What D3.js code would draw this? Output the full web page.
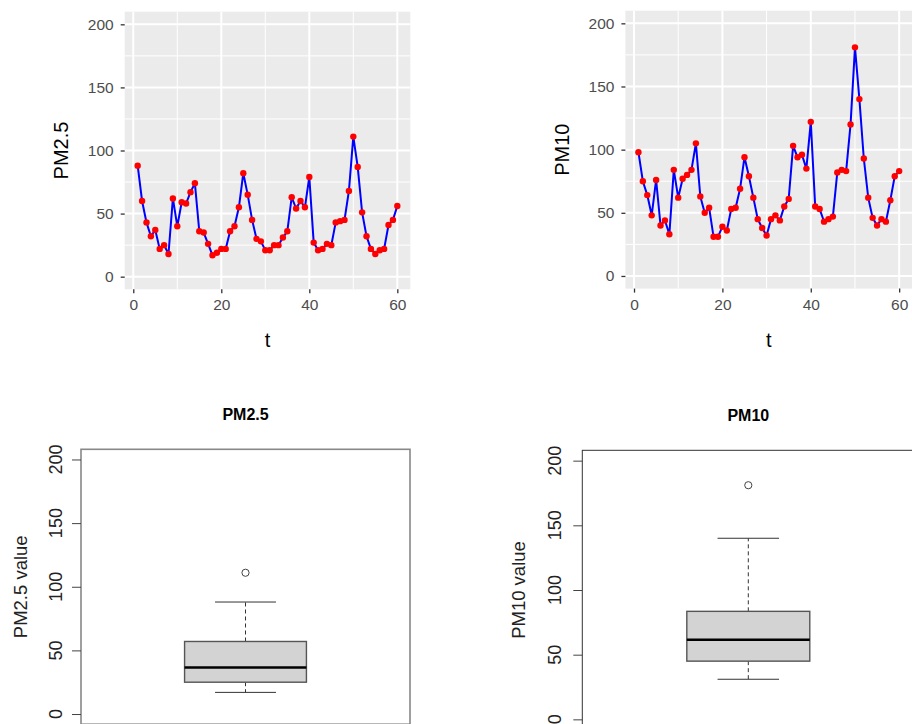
<!DOCTYPE html>
<html><head><meta charset="utf-8">
<script src="https://cdn.jsdelivr.net/npm/d3@7"></script>
<style>
html,body{margin:0;padding:0;background:#fff;}
svg{display:block;font-family:"Liberation Sans",Arial,sans-serif;}
</style></head>
<body>
<svg id="c" width="912" height="724"></svg>
<script>
// ---------- DATA ----------
const pm25 = [88,60,43,32,37,22,25,18,62,40,59,58,67,74,36,35,26,17,19,22,
              22,36,40,55,82,65,45,30,28,21,21,25,25,31,36,63,54,60,55,79,
              27,21,22,26,25,43,44,45,68,111,87,51,32,22,18,21,22,41,45,56];
const pm10 = [98,75,64,48,76,40,44,33,84,62,77,80,84,105,63,50,54,31,31,39,
              36,53,54,69,94,79,62,45,38,32,45,48,44,55,61,103,94,96,85,122,
              55,53,43,45,47,82,84,83,120,181,140,93,62,46,40,45,43,60,79,83];
const xTicks = [0,20,40,60];
const xMinor = [10,30,50];
const yTicks = [0,50,100,150,200];
const yMinor = [25,75,125,175];
const lineTitles = ["PM2.5","PM10"];
const boxTitles = ["PM2.5","PM10"];
const boxYLabels = ["PM2.5 value","PM10 value"];

const svg = d3.select("#c");

// ---------- ggplot-like line panels ----------
function linePanel(data, title, xr, yr, titleX) {
  const x = d3.scaleLinear().domain([-1.95, 62.95]).range(xr);
  const y = d3.scaleLinear().domain([-10, 210]).range(yr);
  const g = svg.append("g");
  g.append("rect").attr("x", xr[0]).attr("y", yr[1])
    .attr("width", xr[1]-xr[0]).attr("height", yr[0]-yr[1]).attr("fill", "#EBEBEB");
  g.selectAll(null).data(xMinor).join("line")
    .attr("x1", d=>x(d)).attr("x2", d=>x(d)).attr("y1", yr[0]).attr("y2", yr[1])
    .attr("stroke", "#fff").attr("stroke-width", 1);
  g.selectAll(null).data(yMinor).join("line")
    .attr("y1", d=>y(d)).attr("y2", d=>y(d)).attr("x1", xr[0]).attr("x2", xr[1])
    .attr("stroke", "#fff").attr("stroke-width", 1);
  g.selectAll(null).data(xTicks).join("line")
    .attr("x1", d=>x(d)).attr("x2", d=>x(d)).attr("y1", yr[0]).attr("y2", yr[1])
    .attr("stroke", "#fff").attr("stroke-width", 2);
  g.selectAll(null).data(yTicks).join("line")
    .attr("y1", d=>y(d)).attr("y2", d=>y(d)).attr("x1", xr[0]).attr("x2", xr[1])
    .attr("stroke", "#fff").attr("stroke-width", 2);
  const ax = g.append("g").attr("transform", `translate(0,${yr[0]})`)
    .call(d3.axisBottom(x).tickValues(xTicks).tickSize(4).tickPadding(6));
  const ay = g.append("g").attr("transform", `translate(${xr[0]},0)`)
    .call(d3.axisLeft(y).tickValues(yTicks).tickSize(4).tickPadding(7));
  [ax, ay].forEach(a => {
    a.select(".domain").remove();
    a.selectAll(".tick line").attr("stroke", "#333").attr("stroke-width", 1.3);
    a.selectAll(".tick text").attr("fill", "#4D4D4D").style("font-size", "15.5px");
  });
  const pts = data.map((v,i)=>({t:i+1, v}));
  g.append("path").datum(pts)
    .attr("d", d3.line().x(d=>x(d.t)).y(d=>y(d.v)))
    .attr("fill", "none").attr("stroke", "#0000FF").attr("stroke-width", 2);
  g.selectAll(null).data(pts).join("circle")
    .attr("cx", d=>x(d.t)).attr("cy", d=>y(d.v)).attr("r", 3.2).attr("fill", "#FF0000");
  g.append("text").attr("x", (xr[0]+xr[1])/2).attr("y", 340)
    .attr("text-anchor", "middle").attr("dominant-baseline", "central")
    .style("font-size", "20px").attr("fill", "#000").text("t");
  g.append("text").attr("transform", `translate(${titleX},${(yr[0]+yr[1])/2}) rotate(-90)`)
    .attr("text-anchor", "middle").attr("dominant-baseline", "central")
    .style("font-size", "20px").attr("fill", "#000").text(title);
}
linePanel(pm25, lineTitles[0], [124.7, 410.3], [289.3, 11.7], 61);
linePanel(pm10, lineTitles[1], [625.4, 912.2], [288.6, 10.7], 562);

// ---------- base-R-like boxplots ----------
function fivenum(arr) {
  const s = arr.slice().sort((a,b)=>a-b);
  const n = s.length;
  const n4 = Math.floor((n+3)/2)/2;
  const d = [1, n4, (n+1)/2, n+1-n4, n];
  return d.map(p => 0.5*(s[Math.floor(p)-1] + s[Math.ceil(p)-1]));
}
function boxPanel(data, title, ylab, frame, yr, opts) {
  const x = d3.scaleLinear().domain([0.46, 1.54]).range([frame.x0, frame.x1]);
  const y = d3.scaleLinear().domain([-8, 208]).range(yr);
  const g = svg.append("g");
  const f = fivenum(data);
  const iqr = f[3]-f[1];
  const hiLim = f[3] + 1.5*iqr, loLim = f[1] - 1.5*iqr;
  const inside = data.filter(v => v >= loLim && v <= hiLim);
  const wHi = d3.max(inside), wLo = d3.min(inside);
  const outs = data.filter(v => v < loLim || v > hiLim);
  g.append("line").attr("x1", x(1)).attr("x2", x(1)).attr("y1", y(f[3])).attr("y2", y(wHi))
    .attr("stroke", "#333").attr("stroke-width", 1).attr("stroke-dasharray", "4,3");
  g.append("line").attr("x1", x(1)).attr("x2", x(1)).attr("y1", y(f[1])).attr("y2", y(wLo))
    .attr("stroke", "#333").attr("stroke-width", 1).attr("stroke-dasharray", "4,3");
  [wHi, wLo].forEach(v => g.append("line").attr("x1", x(0.9)).attr("x2", x(1.1))
    .attr("y1", y(v)).attr("y2", y(v)).attr("stroke", "#333").attr("stroke-width", 1));
  g.append("rect").attr("x", x(0.8)).attr("width", x(1.2)-x(0.8))
    .attr("y", y(f[3])).attr("height", y(f[1])-y(f[3]))
    .attr("fill", "#D3D3D3").attr("stroke", "#555").attr("stroke-width", 1.4);
  g.append("line").attr("x1", x(0.8)).attr("x2", x(1.2)).attr("y1", y(f[2])).attr("y2", y(f[2]))
    .attr("stroke", "#000").attr("stroke-width", 2.6);
  g.selectAll(null).data(outs).join("circle")
    .attr("cx", x(1)).attr("cy", d=>y(d)).attr("r", 3.6)
    .attr("fill", "none").attr("stroke", "#444").attr("stroke-width", 1);
  g.append("rect").attr("x", frame.x0).attr("y", frame.y0)
    .attr("width", frame.x1-frame.x0).attr("height", yr[0]-frame.y0)
    .attr("fill", "none").attr("stroke", opts.frameColor).attr("stroke-width", opts.frameWidth);
  const ay = g.append("g").attr("transform", `translate(${frame.x0},0)`)
    .call(d3.axisLeft(y).tickValues(yTicks).tickSize(9).tickPadding(0));
  ay.select(".domain").remove();
  ay.selectAll(".tick line").attr("stroke", "#444").attr("stroke-width", 1);
  ay.selectAll(".tick text").remove();
  g.selectAll(null).data(yTicks).join("text")
    .attr("transform", d => `translate(${opts.tickLabelX},${y(d)}) rotate(-90)`)
    .attr("text-anchor", "middle").attr("dominant-baseline", "central")
    .style("font-size", "18px").attr("fill", "#222").text(d=>d);
  g.append("text")
    .attr("transform", `translate(${opts.labelX},${y(100)}) rotate(-90)`)
    .attr("text-anchor", "middle").attr("dominant-baseline", "central")
    .style("font-size", "18.5px").attr("fill", "#222").text(ylab);
  g.append("text").attr("x", x(1)).attr("y", opts.titleY)
    .attr("text-anchor", "middle").attr("dominant-baseline", "central")
    .style("font-size", "16px").style("font-weight", "bold").attr("fill", "#000").text(title);
}
boxPanel(pm25, boxTitles[0], boxYLabels[0], {x0: 81, x1: 410, y0: 449.3}, [724.2, 449.3],
  {frameColor: "#888", frameWidth: 1.6, tickLabelX: 56, labelX: 20, titleY: 414});
boxPanel(pm10, boxTitles[1], boxYLabels[1], {x0: 582.3, x1: 914.3, y0: 450.3}, [729.7, 450.3],
  {frameColor: "#333", frameWidth: 1, tickLabelX: 555, labelX: 518, titleY: 415});
</script>
</body></html>
